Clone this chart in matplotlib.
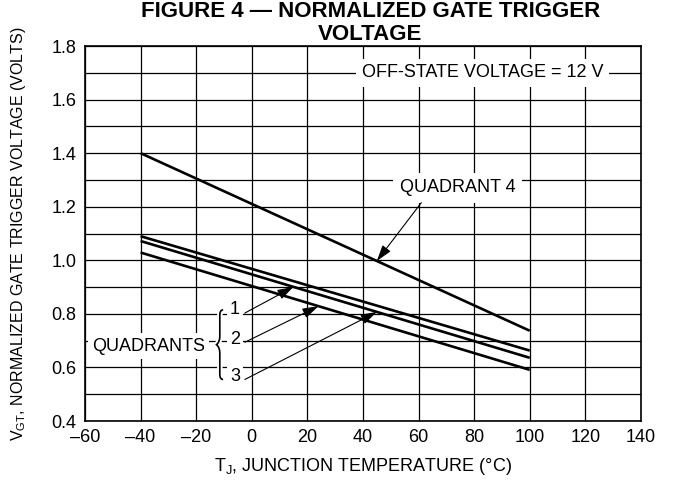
import numpy as np
import matplotlib
matplotlib.use("Agg")
import matplotlib.pyplot as plt
from matplotlib.path import Path
from matplotlib.patches import PathPatch

# temperatures (deg C) at the two ends of each curve
temp = [-40, 100]
quad4 = [1.40, 0.737]
quad_top = [1.09, 0.663]
quad_mid = [1.072, 0.636]
quad_low = [1.029, 0.591]

x_ticks = [-60, -40, -20, 0, 20, 40, 60, 80, 100, 120, 140]
y_ticks = [0.4, 0.6, 0.8, 1.0, 1.2, 1.4, 1.6, 1.8]

plt.rcParams['font.family'] = ['Liberation Sans', 'DejaVu Sans']
plt.rcParams['mathtext.fontset'] = 'custom'
plt.rcParams['mathtext.rm'] = 'Liberation Sans'
plt.rcParams['mathtext.it'] = 'Liberation Sans'


def on_line(xs, ys, x):
    return np.interp(x, xs, ys)


fig = plt.figure(figsize=(6.73, 4.98), dpi=100)
ax = fig.add_axes([0.1263, 0.1546, 0.826, 0.753])

ax.set_xlim(-60, 140)
ax.set_ylim(0.4, 1.8)
ax.set_xticks(x_ticks)
ax.set_yticks(y_ticks)
ax.set_xticklabels([str(v).replace('-', '\u2013') for v in x_ticks])
ax.set_yticklabels(['%.1f' % v for v in y_ticks])
ax.set_yticks(np.arange(0.5, 1.8, 0.2), minor=True)
ax.tick_params(length=0, labelsize=13, pad=6)
ax.tick_params(which='minor', length=0)
ax.grid(True, which='both', color='black', lw=0.9)
ax.set_axisbelow(True)
for s in ax.spines.values():
    s.set_linewidth(1.2)

for ys in (quad4, quad_top, quad_mid, quad_low):
    ax.plot(temp, ys, color='black', lw=1.9, solid_capstyle='butt', zorder=3)

box = dict(facecolor='white', edgecolor='none', pad=2)
arw = dict(arrowstyle='-|>,head_length=0.7,head_width=0.22', color='black',
           lw=0.8, mutation_scale=14, shrinkA=0, shrinkB=0)

ax.text(83, 1.7, 'OFF-STATE VOLTAGE = 12 V', ha='center', va='center',
        fontsize=13, bbox=dict(facecolor='white', edgecolor='none', pad=4), zorder=4)

ax.text(74, 1.27, 'QUADRANT 4', ha='center', va='center', fontsize=13,
        bbox=dict(facecolor='white', edgecolor='none', pad=5), zorder=4)
ax.annotate('', xy=(45, on_line(temp, quad4, 45)), xytext=(61, 1.215),
            arrowprops=arw, zorder=5)

ax.text(-57.5, 0.68, 'QUADRANTS', ha='left', va='center', fontsize=13,
        bbox=dict(facecolor='white', edgecolor='none', pad=3), zorder=4)

# curly brace
bx, by0, by1 = -11.5, 0.555, 0.815
ym = (by0 + by1) / 2
verts = [(bx + 1.2, by1), (bx, by1), (bx, by1 - 0.02), (bx, ym + 0.03),
         (bx, ym + 0.01), (bx - 1.2, ym), (bx - 1.2, ym),
         (bx - 1.2, ym), (bx, ym - 0.01), (bx, ym - 0.03),
         (bx, by0 + 0.02), (bx, by0), (bx + 1.2, by0)]
codes = [Path.MOVETO, Path.CURVE3, Path.CURVE3, Path.LINETO,
         Path.CURVE3, Path.CURVE3, Path.LINETO,
         Path.LINETO, Path.CURVE3, Path.CURVE3,
         Path.LINETO, Path.CURVE3, Path.CURVE3]
ax.add_patch(PathPatch(Path(verts, codes), facecolor='none', edgecolor='white',
                       lw=4, zorder=4))
ax.add_patch(PathPatch(Path(verts, codes), facecolor='none', edgecolor='black',
                       lw=1.2, zorder=5))

labels = ['1', '2', '3']
label_y = [0.815, 0.706, 0.567]
targets = [(15, quad_mid), (24, quad_low), (45, quad_mid)]
for lab, ly, (tx, line) in zip(labels, label_y, targets):
    ax.text(-6, ly, lab, ha='center', va='center', fontsize=13, bbox=box, zorder=4)
    ax.annotate('', xy=(tx, on_line(temp, line, tx)), xytext=(-2.5, ly - 0.012),
                arrowprops=arw, zorder=5)

ax.set_xlabel(r'T$_{\mathregular{J}}$, JUNCTION TEMPERATURE (°C)', fontsize=13, labelpad=7)
ax.set_ylabel(r'V$_{\mathregular{GT}}$, NORMALIZED GATE TRIGGER VOLTAGE (VOLTS)',
              fontsize=11.5, labelpad=8)
ax.yaxis.set_label_coords(-0.103, 0.50)

fig.text(0.55, 0.998, 'FIGURE 4 \u2014 NORMALIZED GATE TRIGGER\nVOLTAGE', ha='center',
         va='top', fontsize=16, fontweight='bold', linespacing=1.15)

fig.savefig('out.png', dpi=100)
